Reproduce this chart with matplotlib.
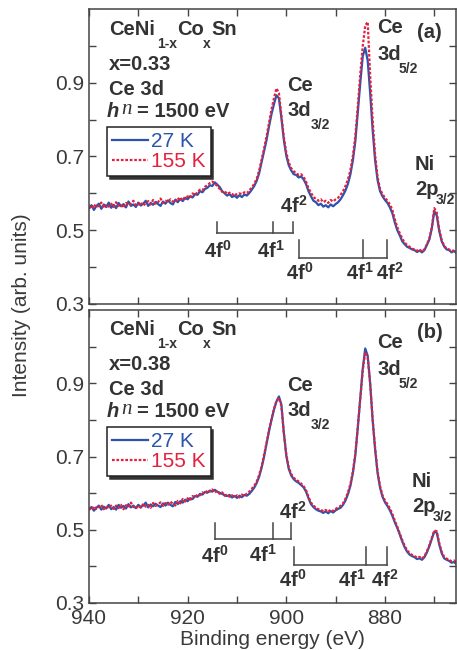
import numpy as np
import matplotlib
matplotlib.use('Agg')
import matplotlib.pyplot as plt
from matplotlib.ticker import MultipleLocator, FixedLocator

plt.rcParams['font.family'] = ['Liberation Sans', 'DejaVu Sans']
plt.rcParams['mathtext.fontset'] = 'custom'
plt.rcParams['mathtext.rm'] = 'Liberation Sans'
plt.rcParams['mathtext.bf'] = 'Liberation Sans:bold'

W, H = 457, 650

# binding energy grid (eV), 0.5 eV steps from 940 down to 865
energy = np.arange(940, 864.75, -0.5)

# panel (a), x = 0.33
a_27K = [0.560, 0.568, 0.555, 0.566, 0.572, 0.558, 0.570, 0.563, 0.575, 0.561,
         0.569, 0.560, 0.574, 0.565, 0.571, 0.562, 0.578, 0.566, 0.570, 0.563,
         0.575, 0.567, 0.572, 0.580, 0.566, 0.574, 0.569, 0.577, 0.571, 0.566,
         0.578, 0.572, 0.581, 0.574, 0.570, 0.583, 0.576, 0.585, 0.579, 0.588,
         0.584, 0.592, 0.589, 0.598, 0.596, 0.606, 0.603, 0.612, 0.615, 0.622,
         0.620, 0.630, 0.624, 0.617, 0.606, 0.600, 0.594, 0.598, 0.590, 0.594,
         0.588, 0.595, 0.590, 0.597, 0.594, 0.601, 0.610, 0.620, 0.634, 0.655,
         0.685, 0.715, 0.745, 0.782, 0.815, 0.842, 0.866, 0.858, 0.805, 0.745,
         0.702, 0.676, 0.662, 0.652, 0.650, 0.643, 0.646, 0.638, 0.625, 0.606,
         0.592, 0.580, 0.576, 0.568, 0.572, 0.564, 0.568, 0.562, 0.570, 0.565,
         0.571, 0.576, 0.584, 0.595, 0.608, 0.626, 0.652, 0.690, 0.742, 0.820,
         0.900, 0.972, 0.995, 0.960, 0.872, 0.772, 0.690, 0.636, 0.606, 0.592,
         0.582, 0.574, 0.562, 0.546, 0.521, 0.500, 0.486, 0.470, 0.462, 0.455,
         0.452, 0.448, 0.446, 0.441, 0.445, 0.440, 0.446, 0.460, 0.475, 0.505,
         0.552, 0.540, 0.498, 0.470, 0.456, 0.448, 0.446, 0.440, 0.444, 0.438,
         0.440]
a_155K = [0.565, 0.558, 0.570, 0.562, 0.567, 0.575, 0.560, 0.568, 0.564, 0.572,
          0.563, 0.576, 0.566, 0.570, 0.561, 0.574, 0.568, 0.572, 0.580, 0.567,
          0.570, 0.576, 0.566, 0.574, 0.579, 0.570, 0.582, 0.572, 0.576, 0.586,
          0.574, 0.580, 0.576, 0.584, 0.578, 0.576, 0.588, 0.580, 0.590, 0.585,
          0.592, 0.588, 0.600, 0.595, 0.604, 0.610, 0.608, 0.618, 0.622, 0.628,
          0.632, 0.626, 0.620, 0.612, 0.604, 0.606, 0.598, 0.602, 0.596, 0.600,
          0.596, 0.600, 0.598, 0.603, 0.600, 0.608, 0.616, 0.626, 0.640, 0.662,
          0.692, 0.722, 0.755, 0.792, 0.828, 0.858, 0.885, 0.872, 0.812, 0.752,
          0.710, 0.684, 0.668, 0.660, 0.655, 0.650, 0.652, 0.645, 0.632, 0.614,
          0.602, 0.590, 0.585, 0.580, 0.584, 0.576, 0.580, 0.574, 0.582, 0.578,
          0.584, 0.588, 0.596, 0.606, 0.620, 0.638, 0.664, 0.702, 0.756, 0.838,
          0.925, 1.000, 1.055, 1.065, 0.920, 0.800, 0.705, 0.645, 0.612, 0.598,
          0.588, 0.580, 0.570, 0.555, 0.530, 0.508, 0.492, 0.478, 0.466, 0.460,
          0.455, 0.450, 0.448, 0.444, 0.448, 0.442, 0.448, 0.462, 0.478, 0.508,
          0.560, 0.548, 0.502, 0.474, 0.458, 0.450, 0.448, 0.443, 0.446, 0.440,
          0.442]

# panel (b), x = 0.38
b_27K = [0.556, 0.562, 0.552, 0.560, 0.566, 0.555, 0.563, 0.558, 0.568, 0.556,
         0.562, 0.555, 0.568, 0.560, 0.565, 0.558, 0.570, 0.561, 0.566, 0.559,
         0.568, 0.562, 0.566, 0.574, 0.561, 0.569, 0.564, 0.571, 0.566, 0.562,
         0.572, 0.566, 0.574, 0.568, 0.564, 0.576, 0.570, 0.578, 0.574, 0.582,
         0.578, 0.586, 0.584, 0.592, 0.590, 0.598, 0.596, 0.603, 0.601, 0.607,
         0.604, 0.609, 0.604, 0.601, 0.598, 0.594, 0.592, 0.595, 0.588, 0.592,
         0.587, 0.593, 0.589, 0.595, 0.593, 0.598, 0.606, 0.615, 0.628, 0.645,
         0.670, 0.700, 0.735, 0.770, 0.800, 0.828, 0.850, 0.864, 0.842, 0.765,
         0.702, 0.666, 0.648, 0.638, 0.632, 0.628, 0.622, 0.616, 0.604, 0.586,
         0.570, 0.562, 0.556, 0.552, 0.550, 0.546, 0.550, 0.545, 0.551, 0.547,
         0.553, 0.557, 0.560, 0.568, 0.580, 0.597, 0.620, 0.655, 0.705, 0.780,
         0.860, 0.940, 0.995, 0.975, 0.900, 0.800, 0.720, 0.655, 0.615, 0.590,
         0.575, 0.565, 0.553, 0.538, 0.520, 0.505, 0.487, 0.468, 0.452, 0.440,
         0.432, 0.428, 0.425, 0.420, 0.422, 0.418, 0.425, 0.438, 0.455, 0.475,
         0.495, 0.492, 0.460, 0.436, 0.422, 0.418, 0.415, 0.410, 0.412, 0.406,
         0.408]
b_155K = [0.560, 0.554, 0.564, 0.557, 0.562, 0.568, 0.556, 0.564, 0.559, 0.566,
          0.557, 0.566, 0.559, 0.568, 0.556, 0.567, 0.561, 0.574, 0.563, 0.558,
          0.566, 0.560, 0.571, 0.563, 0.568, 0.560, 0.573, 0.565, 0.569, 0.575,
          0.565, 0.573, 0.568, 0.577, 0.571, 0.566, 0.579, 0.572, 0.584, 0.577,
          0.586, 0.580, 0.592, 0.588, 0.596, 0.594, 0.602, 0.598, 0.608, 0.604,
          0.610, 0.602, 0.606, 0.598, 0.602, 0.593, 0.597, 0.590, 0.594, 0.589,
          0.594, 0.588, 0.596, 0.592, 0.599, 0.604, 0.612, 0.620, 0.632, 0.650,
          0.673, 0.705, 0.738, 0.772, 0.803, 0.830, 0.852, 0.860, 0.838, 0.762,
          0.706, 0.670, 0.652, 0.642, 0.636, 0.632, 0.626, 0.619, 0.608, 0.590,
          0.574, 0.566, 0.560, 0.556, 0.555, 0.550, 0.554, 0.549, 0.555, 0.551,
          0.557, 0.561, 0.565, 0.572, 0.585, 0.602, 0.625, 0.660, 0.708, 0.782,
          0.860, 0.935, 0.985, 0.970, 0.898, 0.802, 0.724, 0.660, 0.620, 0.594,
          0.580, 0.570, 0.558, 0.543, 0.525, 0.508, 0.490, 0.472, 0.456, 0.444,
          0.436, 0.431, 0.428, 0.424, 0.426, 0.421, 0.428, 0.441, 0.458, 0.478,
          0.498, 0.496, 0.464, 0.440, 0.426, 0.421, 0.418, 0.414, 0.416, 0.410,
          0.411]

# 4f final-state markers: tick energies and bracket heights
a_brackets = [([914.0, 902.6, 898.6], 0.523, 0.493), ([897.4, 884.4, 879.5], 0.474, 0.425)]
b_brackets = [([914.4, 902.6, 899.0], 0.518, 0.474), ([898.4, 883.8, 879.6], 0.452, 0.403)]
a_4f_labels = [('0', 914.0, 0.425), ('1', 903.1, 0.425), ('2', 898.5, 0.548),
               ('0', 897.2, 0.365), ('1', 885.1, 0.365), ('2', 879.0, 0.365)]
b_4f_labels = [('0', 914.5, 0.409), ('1', 904.7, 0.412), ('2', 898.8, 0.531),
               ('0', 898.8, 0.344), ('1', 886.7, 0.344), ('2', 880.0, 0.344)]

y_major = [0.3, 0.5, 0.7, 0.9]
y_minor = [0.4, 0.6, 0.8, 1.0]

BLUE = '#2c54ac'
RED = '#e4203f'
TXT = '#333333'

fig = plt.figure(figsize=(W / 100, H / 100), dpi=100)


def ftext(x, y, s, **kw):
    kw.setdefault('color', TXT)
    fig.text(x / W, 1 - y / H, s, va='baseline', **kw)


def make_axes(top, bottom):
    ax = fig.add_axes([89 / W, 1 - bottom / H, 366.5 / W, (bottom - top) / H])
    ax.set_xlim(940, 865.7)
    ax.set_ylim(0.3, 1.1)
    ax.xaxis.set_major_locator(MultipleLocator(20))
    ax.xaxis.set_minor_locator(MultipleLocator(10))
    ax.yaxis.set_major_locator(FixedLocator(y_major))
    ax.yaxis.set_minor_locator(FixedLocator(y_minor))
    ax.yaxis.set_major_formatter(lambda v, pos: '%.1f' % v)
    ax.tick_params(which='both', direction='in', top=True, right=True,
                   length=5, width=1, color='#444444', labelsize=15,
                   labelcolor='#3a3a3a')
    ax.tick_params(axis='x', pad=4.5)
    for sp in ax.spines.values():
        sp.set_color('#444444')
        sp.set_linewidth(1.1)
    return ax


def panel(ax, blue, red, brackets, labels, y0, xval, panel_tag, peaks):
    ax.plot(energy, blue, color=BLUE, lw=1.6, label='27 K')
    ax.plot(energy, red, color=RED, lw=1.6, ls=(0, (1.2, 0.8)), label='155 K')
    for ticks, ytop, ybot in brackets:
        ax.plot([ticks[0], ticks[-1]], [ybot, ybot], color='#444444', lw=1.1)
        for e in ticks:
            ax.plot([e, e], [ybot, ytop], color='#444444', lw=1.1)
    for sup, e, yv in labels:
        ax.text(e, yv, r'$\mathbf{4f^{%s}}$' % sup, ha='center', va='baseline',
                fontsize=14.5, color=TXT)
    leg = ax.legend(loc='upper left', bbox_to_anchor=(107 / W, 1 - (y0 + 127) / H),
                    bbox_transform=fig.transFigure, fontsize=15, frameon=True,
                    fancybox=False, shadow={'color': '0.2', 'alpha': 1},
                    borderaxespad=0, borderpad=0.25, labelspacing=0.05,
                    handlelength=1.7, handletextpad=0.15, labelcolor='linecolor')
    leg.get_frame().set_edgecolor('#222222')
    leg.get_frame().set_linewidth(1.1)

    bold = dict(fontsize=14.5, fontweight='bold')
    small = dict(fontsize=10, fontweight='bold')
    ftext(109, y0 + 35, 'CeNi', **bold)
    ftext(157, y0 + 48, '1-x', **small)
    ftext(177, y0 + 35, 'Co', **bold)
    ftext(203, y0 + 48, 'x', **small)
    ftext(211, y0 + 35, 'Sn', **bold)
    ftext(109, y0 + 70, 'x=' + xval, **bold)
    ftext(109, y0 + 95, 'Ce 3d', **bold)
    ftext(107, y0 + 117, 'h', fontsize=14.5, fontweight='bold', style='italic')
    ftext(121.5, y0 + 114, 'n', fontsize=15, family='Liberation Serif', style='italic')
    ftext(137, y0 + 117, '= 1500 eV', **bold)
    ftext(417, y0 + 38, panel_tag, **bold)
    (x32, y32), (x52, y52), (xni, yni) = peaks
    ftext(x32, y32, 'Ce', **bold)
    ftext(x32, y32 + 25, '3d', **bold)
    ftext(x32 + 24, y32 + 38, '3/2', **small)
    ftext(x52, y52, 'Ce', **bold)
    ftext(x52, y52 + 27, '3d', **bold)
    ftext(x52 + 22, y52 + 40, '5/2', **small)
    ftext(xni, yni, 'Ni', **bold)
    ftext(xni, yni + 25, '2p', **bold)
    ftext(xni + 21, yni + 34, '3/2', **small)


ax1 = make_axes(9, 304)
ax1.tick_params(labelbottom=False)
panel(ax1, a_27K, a_155K, a_brackets, a_4f_labels, 0, '0.33', '(a)',
      [(287, 91), (377, 33), (415, 170)])

ax2 = make_axes(310, 603)
panel(ax2, b_27K, b_155K, b_brackets, b_4f_labels, 300, '0.38', '(b)',
      [(287, 391), (377, 348), (412, 487)])
ax2.set_xlabel('Binding energy (eV)', fontsize=15, color='#3a3a3a', labelpad=1)

fig.text(22 / W, 1 - 305 / H, 'Intensity (arb. units)', rotation=90, fontsize=15,
         color='#3a3a3a', ha='center', va='center')

fig.savefig('out.png', dpi=100)
